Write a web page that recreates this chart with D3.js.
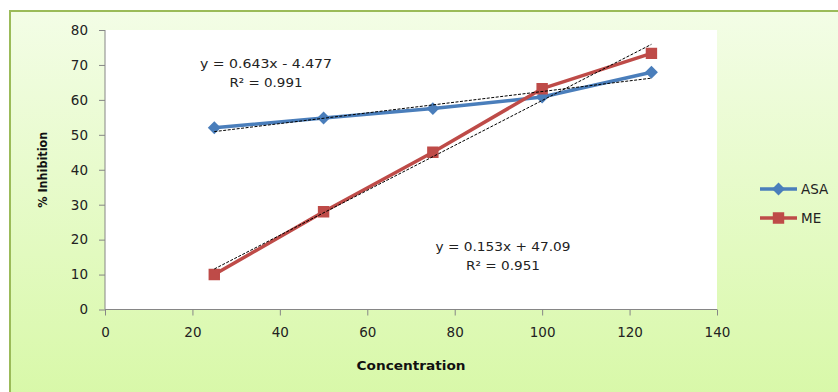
<!DOCTYPE html>
<html>
<head>
<meta charset="utf-8">
<script src="https://cdn.jsdelivr.net/npm/d3@7"></script>
<style>
  body { margin: 0; background: #fff; }
  svg { display: block; }
  .tick text { font-family: "DejaVu Sans", Verdana, sans-serif; font-size: 13.5px; fill: #222; }
</style>
</head>
<body>
<svg id="chart" width="838" height="392"></svg>
<script>
// data
var concentration = [25, 50, 75, 100, 125];
var asaValues = [52, 54.8, 57.5, 60.8, 67.9];
var meValues = [10, 28, 45, 63.2, 73.3];
var seriesNames = ["ASA", "ME"];
var seriesColors = ["#4a7ebb", "#be4b48"];
// trendline equations as printed on the chart
var trendSlope = [0.153, 0.643];
var trendIntercept = [47.09, -4.477];
var trendLabels = [["y = 0.153x + 47.09", "R\u00b2 = 0.951"], ["y = 0.643x - 4.477", "R\u00b2 = 0.991"]];
var xTicks = [0, 20, 40, 60, 80, 100, 120, 140];
var yTicks = [0, 10, 20, 30, 40, 50, 60, 70, 80];

var svg = d3.select("#chart");
var plot = {left: 105, right: 717, top: 30, bottom: 309.5};

// chart area background (gradient, border clipped by window)
var defs = svg.append("defs");
var grad = defs.append("linearGradient").attr("id", "bg").attr("x1", 0).attr("y1", 0).attr("x2", 0).attr("y2", 1);
grad.append("stop").attr("offset", "0%").attr("stop-color", "#f3fde6");
grad.append("stop").attr("offset", "100%").attr("stop-color", "#d7f8a6");

svg.append("rect")
  .attr("x", 10).attr("y", 11)
  .attr("width", 840).attr("height", 400)
  .attr("fill", "url(#bg)")
  .attr("stroke", "#9bbb59")
  .attr("stroke-width", 2);

// plot area
svg.append("rect")
  .attr("x", plot.left).attr("y", plot.top)
  .attr("width", plot.right - plot.left).attr("height", plot.bottom - plot.top)
  .attr("fill", "#fff");

// scales
var x = d3.scaleLinear().domain([0, 140]).range([plot.left, plot.right]);
var y = d3.scaleLinear().domain([0, 80]).range([plot.bottom, plot.top]);

// axes
var yAxis = d3.axisLeft(y).tickValues(yTicks).tickSize(6).tickPadding(11);
svg.append("g")
  .attr("class", "left axis")
  .attr("transform", "translate(" + plot.left + ",0)")
  .call(yAxis);

var xAxis = d3.axisBottom(x).tickValues(xTicks).tickSize(6).tickPadding(12);
svg.append("g")
  .attr("class", "bottom axis")
  .attr("transform", "translate(0," + plot.bottom + ")")
  .call(xAxis);

svg.selectAll(".axis path, .axis line").attr("stroke", "#868686");
svg.selectAll(".axis path").attr("d", function() {
  return d3.select(this.parentNode).classed("left") ?
    "M0," + plot.bottom + "V" + plot.top :
    "M" + plot.left + ",0H" + plot.right;
});

// labels
svg.append("text")
  .attr("x", (plot.left + plot.right) / 2)
  .attr("y", 370)
  .attr("text-anchor", "middle")
  .attr("font-family", "'DejaVu Sans', sans-serif")
  .attr("font-weight", "bold")
  .attr("font-size", "12px")
  .attr("textLength", 109)
  .attr("lengthAdjust", "spacingAndGlyphs")
  .attr("fill", "#111")
  .text("Concentration");

svg.append("text")
  .attr("transform", "translate(47," + (plot.top + plot.bottom) / 2 + ") rotate(-90)")
  .attr("text-anchor", "middle")
  .attr("font-family", "'DejaVu Sans', sans-serif")
  .attr("font-weight", "bold")
  .attr("font-size", "12px")
  .attr("textLength", 76)
  .attr("lengthAdjust", "spacingAndGlyphs")
  .attr("fill", "#111")
  .text("% Inhibition");

// series
var series = [asaValues, meValues];
var line = d3.line()
  .x(function(d, i) { return x(concentration[i]); })
  .y(function(d) { return y(d); });

series.forEach(function(vals, s) {
  svg.append("path")
    .datum(vals)
    .attr("fill", "none")
    .attr("stroke", seriesColors[s])
    .attr("stroke-width", 3.5)
    .attr("stroke-linejoin", "round")
    .attr("d", line);
});

series.forEach(function(vals, s) {
  var sym = d3.symbol().type(s == 0 ? d3.symbolDiamond2 : d3.symbolSquare2).size(s == 0 ? 75 : 125);
  svg.selectAll(".marker" + s)
    .data(vals)
    .enter().append("path")
    .attr("transform", function(d, i) { return "translate(" + x(concentration[i]) + "," + y(d) + ")"; })
    .attr("d", sym)
    .attr("fill", seriesColors[s])
    .attr("stroke", seriesColors[s])
    .attr("stroke-width", 1.5);
});

// trendlines
var xFirst = concentration[0], xLast = concentration[concentration.length - 1];
trendSlope.forEach(function(m, s) {
  svg.append("line")
    .attr("x1", x(xFirst)).attr("y1", y(m * xFirst + trendIntercept[s]))
    .attr("x2", x(xLast)).attr("y2", y(m * xLast + trendIntercept[s]))
    .attr("stroke", "#000")
    .attr("stroke-width", 1)
    .attr("stroke-dasharray", "3,1.5");
});

// trendline labels
var labelPos = [[503, 251, 270], [266, 68, 87]];
var labelWidth = [[135, 74], [132, 73]];
trendLabels.forEach(function(lab, s) {
  lab.forEach(function(t, k) {
    svg.append("text")
      .attr("x", labelPos[s][0])
      .attr("y", labelPos[s][k + 1])
      .attr("text-anchor", "middle")
      .attr("font-family", "'DejaVu Sans', sans-serif")
      .attr("font-size", "13px")
      .attr("textLength", labelWidth[s][k])
      .attr("lengthAdjust", "spacingAndGlyphs")
      .attr("fill", "#222")
      .text(t);
  });
});

// legend
var legendY = [189, 218];
seriesNames.forEach(function(name, s) {
  var g = svg.append("g").attr("transform", "translate(760," + legendY[s] + ")");
  g.append("line")
    .attr("x1", 0).attr("x2", 37)
    .attr("stroke", seriesColors[s])
    .attr("stroke-width", 3.5);
  g.append("path")
    .attr("transform", "translate(18.5,0)")
    .attr("d", d3.symbol().type(s == 0 ? d3.symbolDiamond2 : d3.symbolSquare2).size(s == 0 ? 75 : 125))
    .attr("fill", seriesColors[s])
    .attr("stroke", seriesColors[s])
    .attr("stroke-width", 1.5);
  g.append("text")
    .attr("x", 41)
    .attr("y", 5)
    .attr("font-family", "'DejaVu Sans', sans-serif")
    .attr("font-size", "13.5px")
    .attr("fill", "#222")
    .text(name);
});
</script>
</body>
</html>
